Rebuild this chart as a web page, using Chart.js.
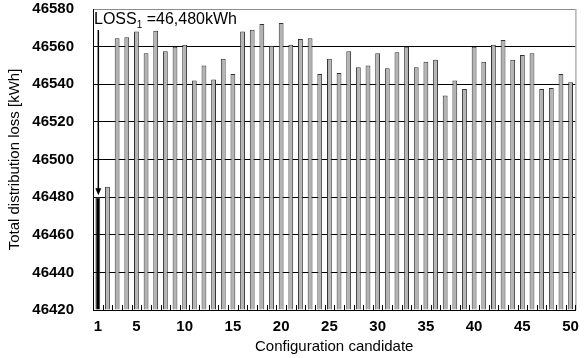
<!DOCTYPE html>
<html>
<head>
<meta charset="utf-8">
<script src="https://cdn.jsdelivr.net/npm/chart.js@4/dist/chart.umd.min.js"></script>
<style>
  body { margin: 0; background: #fff; }
  #wrap { width: 587px; height: 358px; }
</style>
</head>
<body>
<div id="wrap"><canvas id="lossChart"></canvas></div>
<script>
// data
const candidates = [];
for (let i = 1; i <= 50; i++) candidates.push(i);
const lossValues = [
  46480, 46485.5, 46564.5, 46565, 46568, 46556.5, 46568.5, 46557.5, 46560, 46561,
  46542, 46550, 46542.5, 46553.5, 46545.5, 46568, 46569, 46572, 46560.5, 46572.5,
  46561, 46564, 46564.5, 46545.5, 46553.5, 46546, 46557.5, 46549, 46550, 46556.5,
  46548.5, 46557, 46560, 46549, 46552, 46553, 46534, 46542, 46537.5, 46560,
  46552, 46561, 46563.5, 46553, 46555.5, 46556.5, 46537.5, 46538, 46545.5, 46541
];
const shownTicks = [1, 5, 10, 15, 20, 25, 30, 35, 40, 45, 50];
const baseLoss = 46480;
const yMin = 46420, yMax = 46580, yStep = 20;

const barColors = candidates.map(c => c === 1 ? "#000000" : "#b4b4b4");

// LOSS_1 label, arrow, inner tick marks and right frame
const extras = {
  id: "extras",
  afterDatasetsDraw(chart) {
    const ctx = chart.ctx;
    const area = chart.chartArea;
    const x = chart.scales.x;
    const y = chart.scales.y;
    ctx.save();

    // frame on the right
    ctx.strokeStyle = "#8c8c8c";
    ctx.lineWidth = 1;
    ctx.beginPath();
    ctx.moveTo(area.right + 0.5, area.top);
    ctx.lineTo(area.right + 0.5, area.bottom);
    ctx.stroke();

    // small ticks pointing up between categories
    ctx.strokeStyle = "#000";
    const step = x.getPixelForValue(1) - x.getPixelForValue(0);
    for (let i = 0; i <= candidates.length; i++) {
      const px = Math.round(x.getPixelForValue(i) - step / 2) + 0.5;
      ctx.beginPath();
      ctx.moveTo(px, area.bottom);
      ctx.lineTo(px, area.bottom - 5);
      ctx.stroke();
    }

    // arrow down to the first bar
    const ax = x.getPixelForValue(0) + 0.5;
    const ay = y.getPixelForValue(baseLoss) - 2;
    ctx.lineWidth = 1.5;
    ctx.beginPath();
    ctx.moveTo(ax, area.top + 21);
    ctx.lineTo(ax, ay - 6);
    ctx.stroke();
    ctx.fillStyle = "#000";
    ctx.beginPath();
    ctx.moveTo(ax - 3, ay - 7);
    ctx.lineTo(ax + 3, ay - 7);
    ctx.lineTo(ax, ay);
    ctx.closePath();
    ctx.fill();

    // label
    ctx.fillStyle = "#000";
    ctx.textBaseline = "alphabetic";
    ctx.textAlign = "left";
    let tx = area.left + 1;
    const ty = area.top + 15;
    ctx.font = "16px 'Liberation Sans', Arial, sans-serif";
    ctx.fillText("LOSS", tx, ty);
    tx += ctx.measureText("LOSS").width;
    ctx.font = "10px 'Liberation Sans', Arial, sans-serif";
    ctx.fillText("1", tx, ty + 4);
    tx += ctx.measureText("1").width;
    ctx.font = "16px 'Liberation Sans', Arial, sans-serif";
    ctx.fillText(" =46,480kWh", tx, ty);
    ctx.restore();
  }
};

const tickFont = { family: "'Liberation Sans', Arial, sans-serif", size: 15, weight: "bold" };
const titleFont = { family: "'Liberation Sans', Arial, sans-serif", size: 15, weight: "normal" };

new Chart(document.getElementById("lossChart"), {
  type: "bar",
  data: {
    labels: candidates,
    datasets: [{
      data: lossValues,
      backgroundColor: barColors,
      borderColor: "#333333",
      borderWidth: 1,
      barPercentage: 0.5,
      categoryPercentage: 1.0,
      base: yMin
    }]
  },
  options: {
    responsive: true,
    maintainAspectRatio: false,
    animation: false,
    layout: { padding: { left: 6, right: 5, top: 2, bottom: 2 } },
    plugins: { legend: { display: false }, tooltip: { enabled: false } },
    scales: {
      x: {
        offset: true,
        grid: { display: false, drawTicks: false },
        border: { display: true, color: "#000", width: 1 },
        ticks: {
          autoSkip: false,
          maxRotation: 0,
          padding: 8,
          color: "#000",
          font: tickFont,
          callback: function (val, idx) {
            const c = candidates[idx];
            return shownTicks.includes(c) ? String(c) : "";
          }
        },
        title: {
          display: true,
          text: "Configuration candidate",
          color: "#000",
          font: titleFont,
          padding: { top: 0, bottom: 0 }
        },
        afterFit: function (scale) { scale.height = 46; }
      },
      y: {
        min: yMin,
        max: yMax,
        grid: {
          drawTicks: false,
          color: ctx => ctx.tick && ctx.tick.value === yMax ? "#8c8c8c" : "#000",
          lineWidth: 1
        },
        border: { display: true, color: "#000", width: 1 },
        ticks: {
          stepSize: yStep,
          padding: 19,
          color: "#000",
          font: tickFont,
          callback: v => String(v)
        },
        title: {
          display: true,
          text: "Total distribution loss [kWh]",
          color: "#000",
          font: titleFont,
          padding: { top: 0, bottom: 0 }
        },
        afterFit: function (scale) {
          scale.width = 87;
          scale.paddingTop = 9;
          scale.paddingBottom = 9;
        }
      }
    }
  },
  plugins: [extras]
});
</script>
</body>
</html>
